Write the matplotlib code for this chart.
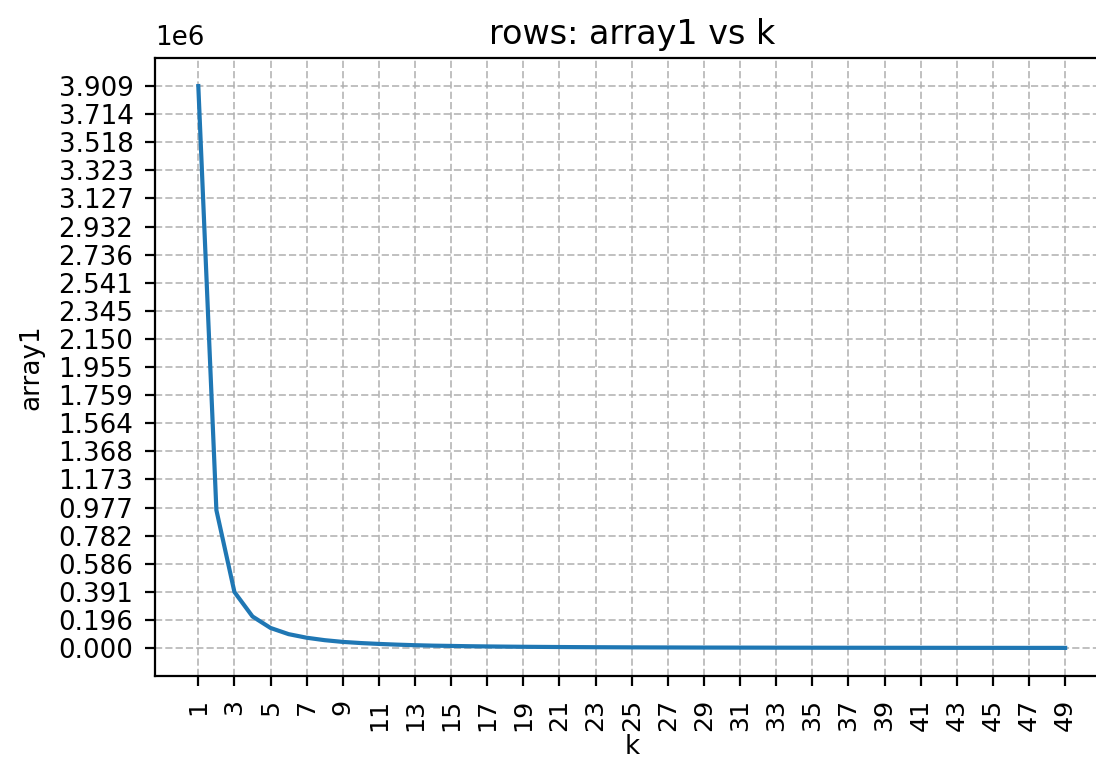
import matplotlib
matplotlib.use("Agg")
import matplotlib.pyplot as plt
import numpy as np

k = list(range(1, 50))
array1 = [3.909, 0.96, 0.39, 0.22, 0.14, 0.097, 0.072, 0.055, 0.043, 0.035,
          0.029, 0.024, 0.020, 0.017, 0.015, 0.013, 0.0115, 0.0102, 0.0091, 0.0082,
          0.0074, 0.0067, 0.0061, 0.0056, 0.0051, 0.0047, 0.0044, 0.0040, 0.0037, 0.0035,
          0.0033, 0.0031, 0.0029, 0.0027, 0.0026, 0.0024, 0.0023, 0.0022, 0.0021, 0.0020,
          0.0019, 0.0018, 0.0017, 0.0016, 0.0016, 0.0015, 0.0014, 0.0014, 0.0013]
array1 = [v * 1e6 for v in array1]
x_ticks = list(range(1, 50, 2))
y_tick_labels = ["0.000", "0.196", "0.391", "0.586", "0.782", "0.977", "1.173", "1.368",
                 "1.564", "1.759", "1.955", "2.150", "2.345", "2.541", "2.736", "2.932",
                 "3.127", "3.323", "3.518", "3.714", "3.909"]

fsy = 18.8
fsx = 18.3
fig = plt.figure(figsize=(10.96, 7.66), dpi=100)
ax = fig.add_axes([0.1414, 0.1175, 0.870, 0.8068])
ax.plot(k, array1, color="#1f77b4", linewidth=3.0)
ax.set_xticks(x_ticks)
ax.set_xticklabels([str(v) for v in x_ticks], rotation=90, fontsize=fsx)
yt = np.linspace(0, max(array1), len(y_tick_labels))
ax.set_yticks(yt)
ax.set_yticklabels(y_tick_labels, fontsize=fsy)
ax.grid(True, linestyle="--", color="#b0b0b0", alpha=0.8, linewidth=1.4)
ax.tick_params(length=7.5, width=1.6)
ax.tick_params(axis="y", pad=8)
ax.tick_params(axis="x", pad=9)
for s in ax.spines.values():
    s.set_linewidth(1.6)
ax.set_xlabel("k", fontsize=fsy, labelpad=2)
ax.set_ylabel("array1", fontsize=fsy, labelpad=10)
ax.set_title("rows: array1 vs k", fontsize=24, pad=10)
ax.text(0, 1.012, "1e6", transform=ax.transAxes, fontsize=fsy, ha="left", va="bottom")
fig.savefig("out.png", dpi=100)
